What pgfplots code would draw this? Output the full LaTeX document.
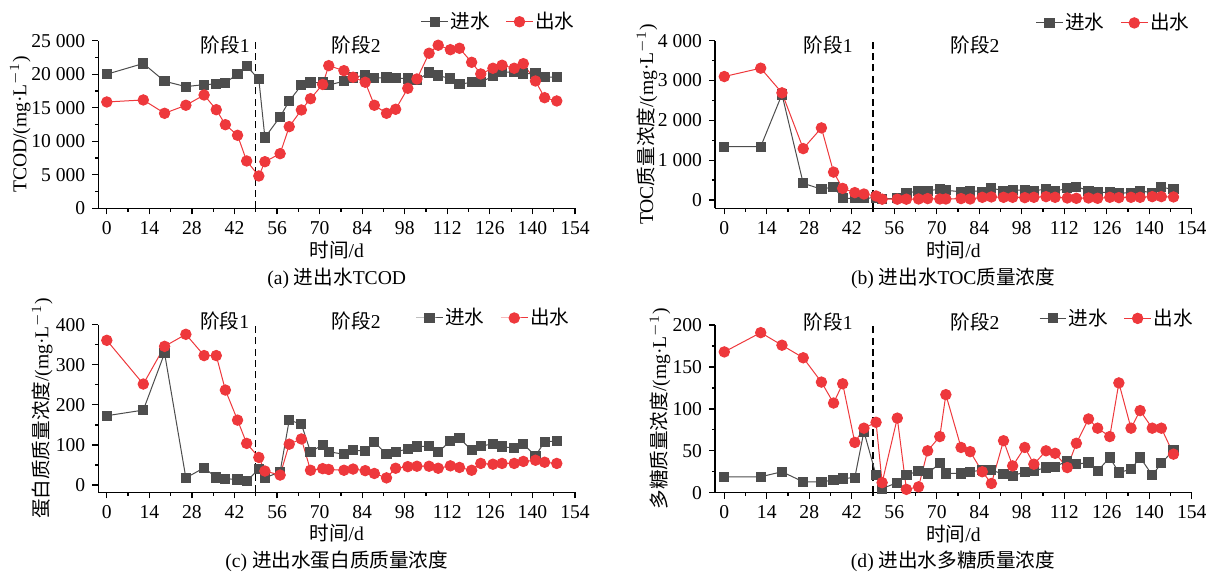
\documentclass[border=0pt]{standalone}
\usepackage{fontspec}
\setmainfont{Liberation Serif}
\newfontfamily\cjk{Noto Sans CJK SC}
\usepackage{pgfplots}
\usepackage{pgfplotstable}
\pgfplotsset{compat=1.18}
\definecolor{dgray}{RGB}{77,77,77}
\definecolor{myred}{RGB}{238,56,60}

\pgfplotstableread{
day in out
0 20000 15860
12 21600 16160
19 18950 14170
26 18150 15370
32 18450 16900
36 18550 14710
39 18700 12470
43 20050 10890
46 21200 7060
50 19250 4820
52 10550 6950
57 13650 8150
60 16000 12180
64 18350 14670
67 18750 16350
71 18750 18470
73 18400 21280
78 18950 20530
81 19500 19550
85 19900 18800
88 19400 15370
92 19500 14170
95 19400 14770
99 19350 17900
102 19100 19290
106 20250 23130
109 19800 24320
113 19350 23660
116 18500 23870
120 18800 21780
123 18800 20040
127 19700 20890
130 20350 21340
134 20300 20890
137 20100 21570
141 20100 18990
144 19550 16500
148 19550 16010
}\tabA

\pgfplotstableread{
day in out
0 1340 3100
12 1340 3310
19 2650 2690
26 420 1290
32 270 1810
36 330 700
39 40 290
43 40 185
46 40 150
50 60 100
52 30 20
57 40 20
60 180 20
64 220 25
67 225 35
71 277 25
73 245 25
78 205 35
81 235 25
85 210 67
88 295 76
92 235 67
95 243 67
99 252 59
102 235 67
106 268 84
109 218 67
113 293 50
116 335 42
120 235 50
123 193 42
127 193 67
130 168 59
134 184 67
137 226 67
141 184 84
144 318 84
148 268 76
}\tabB

\pgfplotstableread{
day in out
0 173 361
12 187 252
19 329 346
26 18 376
32 43 323
36 19 323
39 16 237
43 14 162
46 10 104
50 40 69
52 18 35
57 33 25
60 162 102
64 152 115
67 83 37
71 100 41
73 83 39
78 77 37
81 87 40
85 85 36
88 107 29
92 77 18
95 83 42
99 90 46
102 96 47
106 97 47
109 82 42
113 110 48
116 117 44
120 87 37
123 98 54
127 102 52
130 96 54
134 92 54
137 102 59
141 73 62
144 108 57
148 110 54
}\tabC

\pgfplotstableread{
day in out
0 19 168
12 19 191
19 25 176
26 13 161
32 13 132
36 15 107
39 17 130
43 18 60
46 73 77
50 21 84
52 5 12
57 12 89
60 21 4
64 26 7
67 23 50
71 35 67
73 23 117
78 23 54
81 25 49
85 27 25
88 27 11
92 22 62
95 20 32
99 25 54
102 26 34
106 30 50
109 31 47
113 38 30
116 34 59
120 36 88
123 26 77
127 42 67
130 24 131
134 28 77
137 42 98
141 21 77
144 35 77
148 51 46
}\tabD

\pgfplotsset{
  myax/.style={
    scale only axis, width=238.35pt, height=83.8pt,
    axis lines*=left,
    axis line style={line width=0.6pt, black},
    xmax=154,
    xtick={0,14,28,42,56,70,84,98,112,126,140,154},
    xticklabels={0,14,28,42,56,70,84,98,112,126,140,154},
    scaled y ticks=false, scaled x ticks=false,
    minor x tick num=1, minor y tick num=1,
    tick align=outside, major tick length=3pt, minor tick length=1.6pt,
    tick style={black, line width=0.6pt},
    font=\fontsize{9.8pt}{11pt}\selectfont,
    xlabel={{\cjk 时间}/d},
    clip=false,
    legend style={draw=none, fill=none, legend columns=-1, inner sep=0pt,
      nodes={inner sep=1pt}, anchor=east,
      /tikz/every even column/.append style={column sep=7pt}},
    legend image code/.code={
      \draw[mark repeat=2,mark phase=2] plot coordinates {(0pt,0pt) (6.65pt,0pt) (13.3pt,0pt)};
    },
  },
  inst/.style={dgray, line width=0.5pt, mark=square*, mark size=2.3pt, mark options={solid, fill=dgray}},
  outst/.style={myred, line width=0.5pt, mark=*, mark size=2.6pt, mark options={solid, fill=myred}},
  dashst/.style={black, line width=0.6pt, dash pattern=on 3.5pt off 2.2pt, forget plot},
}

\begin{document}
\begin{tikzpicture}[font=\fontsize{9.8pt}{11pt}\selectfont]
\path[use as bounding box] (0,0) rectangle (607pt,287pt);

% (a)
\begin{axis}[myax, at={(49.15pt,182.85pt)}, anchor=south west,
  xmin=-2.8, ymin=0, ymax=25000,
  ytick={0,5000,10000,15000,20000,25000},
  yticklabels={0,5\ 000,10\ 000,15\ 000,20\ 000,25\ 000},
  ylabel={TCOD/(mg·L$^{-1}$)},
  ylabel style={at={(axis description cs:-0.1636,0.5)}, anchor=center},
  xlabel style={at={(axis description cs:0.5,-0.249)}, anchor=center},
  legend style={at={(axis description cs:1.004,1.113)}},
]
\addplot[dashst] coordinates {(49,0) (49,25000)};
\addplot[inst] table[x=day,y=in] {\tabA};
\addlegendentry{{\cjk 进水}}
\addplot[outst] table[x=day,y=out] {\tabA};
\addlegendentry{{\cjk 出水}}
\node at (axis cs:38.9,24365) {{\cjk 阶段}1};
\node at (axis cs:82,24365) {{\cjk 阶段}2};
\end{axis}

% (b)
\begin{axis}[myax, at={(357.5pt,182.85pt)}, anchor=south west,
  xmin=-3.06, ymin=-209, ymax=4000,
  ytick={0,1000,2000,3000,4000},
  yticklabels={0,1\ 000,2\ 000,3\ 000,4\ 000},
  ylabel={TOC{\cjk 质量浓度}/(mg·L$^{-1}$)},
  ylabel style={at={(axis description cs:-0.1426,0.5)}, anchor=center},
  xlabel style={at={(axis description cs:0.5,-0.249)}, anchor=center},
  legend style={at={(axis description cs:1.0,1.106)}},
]
\addplot[dashst] coordinates {(49,-209) (49,4000)};
\addplot[inst] table[x=day,y=in] {\tabB};
\addlegendentry{{\cjk 进水}}
\addplot[outst] table[x=day,y=out] {\tabB};
\addlegendentry{{\cjk 出水}}
\node at (axis cs:34.2,3900) {{\cjk 阶段}1};
\node at (axis cs:82.6,3900) {{\cjk 阶段}2};
\end{axis}

% (c)
\begin{axis}[myax, at={(49.15pt,40.85pt)}, anchor=south west,
  xmin=-2.8, ymin=-18, ymax=400,
  ytick={0,100,200,300,400},
  yticklabels={0,100,200,300,400},
  ylabel={{\cjk 蛋白质质量浓度}/(mg·L$^{-1}$)},
  ylabel style={at={(axis description cs:-0.1175,0.5)}, anchor=center},
  xlabel style={at={(axis description cs:0.5,-0.246)}, anchor=center},
  legend style={at={(axis description cs:0.993,1.04)}},
]
\addplot[dashst] coordinates {(49,-18) (49,400)};
\addplot[inst] table[x=day,y=in] {\tabC};
\addlegendentry{{\cjk 进水}}
\addplot[outst] table[x=day,y=out] {\tabC};
\addlegendentry{{\cjk 出水}}
\node at (axis cs:38.8,408) {{\cjk 阶段}1};
\node at (axis cs:82,408) {{\cjk 阶段}2};
\end{axis}

% (d)
\begin{axis}[myax, at={(357.5pt,40.65pt)}, anchor=south west,
  xmin=-3.06, ymin=0, ymax=200,
  ytick={0,50,100,150,200},
  yticklabels={0,50,100,150,200},
  ylabel={{\cjk 多糖质量浓度}/(mg·L$^{-1}$)},
  ylabel style={at={(axis description cs:-0.1154,0.5)}, anchor=center},
  xlabel style={at={(axis description cs:0.5,-0.246)}, anchor=center},
  legend style={at={(axis description cs:1.007,1.04)}},
]
\addplot[dashst] coordinates {(49,0) (49,200)};
\addplot[inst] table[x=day,y=in] {\tabD};
\addlegendentry{{\cjk 进水}}
\addplot[outst] table[x=day,y=out] {\tabD};
\addlegendentry{{\cjk 出水}}
\node at (axis cs:34.2,204) {{\cjk 阶段}1};
\node at (axis cs:82.6,204) {{\cjk 阶段}2};
\end{axis}

\node at (168.35pt,147.75pt) {(a) {\cjk 进出水}TCOD};
\node at (476.5pt,147.75pt) {(b) {\cjk 进出水}TOC{\cjk 质量浓度}};
\node at (168.35pt,6.25pt) {(c) {\cjk 进出水蛋白质质量浓度}};
\node at (476.5pt,6.25pt) {(d) {\cjk 进出水多糖质量浓度}};
\end{tikzpicture}
\end{document}
